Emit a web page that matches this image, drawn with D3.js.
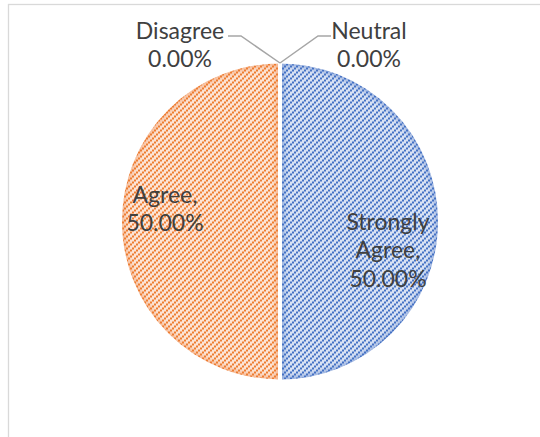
<!DOCTYPE html>
<html>
<head>
<meta charset="utf-8">
<script src="https://cdn.jsdelivr.net/npm/d3@7"></script>
<style>
  html, body { margin: 0; padding: 0; background: #fff; }
  svg { display: block; }
  .label { font-family: Lato, "Open Sans", sans-serif; font-size: 23px; fill: #404040; }
</style>
</head>
<body>
<div id="chart"></div>
<script>
// chart data
var categories = ["Strongly Agree", "Agree", "Disagree", "Neutral"];
var values = [50, 50, 0, 0];
var labelLines = [["Strongly", "Agree,", "50.00%"], ["Agree,", "50.00%"], ["Disagree", "0.00%"], ["Neutral", "0.00%"]];

var fgColors = ["#4472C4", "#ED7D31", "#A5A5A5", "#FFC000"];
var bgColors = ["#D9E2F3", "#FCE4D6", "#EDEDED", "#FFF2CC"];

var width = 540, height = 437;
var cx = 280, cy = 221.5, radius = 160;
var lineHeight = 28.5;

var svg = d3.select("#chart").append("svg")
    .attr("width", width)
    .attr("height", height);

// chart area border (runs off the right and bottom of the picture)
svg.append("rect")
    .attr("x", 8.5).attr("y", 4.5)
    .attr("width", 600).attr("height", 500)
    .attr("fill", "none")
    .attr("stroke", "#D9D9D9")
    .attr("stroke-width", 1.3);

var defs = svg.append("defs");

// wide upward diagonal hatch, one per series
categories.forEach(function(c, i){
    var p = defs.append("pattern")
        .attr("id", "hatch" + i)
        .attr("patternUnits", "userSpaceOnUse")
        .attr("x", 0).attr("y", 0)
        .attr("width", 6).attr("height", 6);
    p.append("rect").attr("width", 6).attr("height", 6).attr("fill", bgColors[i]);
    [[0, 4], [2, 2], [4, 0]].forEach(function(s){
        p.append("rect")
            .attr("x", s[0]).attr("y", s[1])
            .attr("width", 2).attr("height", 2)
            .attr("fill", fgColors[i])
            .attr("shape-rendering", "crispEdges");
    });
});

defs.append("filter").attr("id", "soft")
    .attr("x", "-20%").attr("y", "-20%").attr("width", "140%").attr("height", "140%")
    .append("feGaussianBlur").attr("stdDeviation", 2.5);

var pie = d3.pie().sort(null).value(function(d){ return d; });
var arcs = pie(values);

var arc = d3.arc().innerRadius(0).outerRadius(radius);

var g = svg.append("g").attr("transform", "translate(" + cx + "," + cy + ")");

var slices = arcs.filter(function(d){ return d.value > 0; });

slices.forEach(function(d){
    var i = d.index;
    defs.append("clipPath").attr("id", "clip" + i)
        .append("path").attr("d", arc(d));

    g.append("path")
        .attr("d", arc(d))
        .attr("fill", "url(#hatch" + i + ")")
        .attr("transform", "translate(" + (-cx) + "," + (-cy) + ")")
        .attr("transform", null);

    // soft shading along the slice edges
    g.append("g").attr("clip-path", "url(#clip" + i + ")")
        .append("path")
        .attr("d", arc(d))
        .attr("fill", "none")
        .attr("stroke", fgColors[i])
        .attr("stroke-opacity", 0.45)
        .attr("stroke-width", 9)
        .attr("filter", "url(#soft)");
});

g.selectAll(".sep")
    .data(slices)
    .enter().append("path")
    .attr("d", arc)
    .attr("fill", "none")
    .attr("stroke", "#fff")
    .attr("stroke-width", 4)
    .attr("stroke-linejoin", "miter");

// label placement (relative to pie centre)
var labelPos = [
    {dx: 108, dy: 8},
    {dx: -115, dy: -19},
    {dx: -100, dy: -183},
    {dx: 89, dy: -183}
];

arcs.forEach(function(d, i){
    var lines = labelLines[i];
    var t = g.append("text")
        .attr("class", "label")
        .attr("text-anchor", "middle");
    lines.forEach(function(s, k){
        t.append("tspan")
            .attr("x", labelPos[i].dx)
            .attr("y", labelPos[i].dy + k * lineHeight)
            .text(s);
    });
});

// leader lines for the empty slices, from the top of the pie
var topPt = arc.centroid({startAngle: 0, endAngle: 0});
var rimY = -radius + 1.5;
var leaders = [
    {i: 2, pts: [[-52, -185.5], [-39, -185.5], [0, rimY]]},
    {i: 3, pts: [[0, rimY], [38, -185.5], [51, -185.5]]}
];
leaders.forEach(function(l){
    g.append("path")
        .attr("d", d3.line()(l.pts))
        .attr("fill", "none")
        .attr("stroke", "#A6A6A6")
        .attr("stroke-width", 1.5);
});
</script>
</body>
</html>
